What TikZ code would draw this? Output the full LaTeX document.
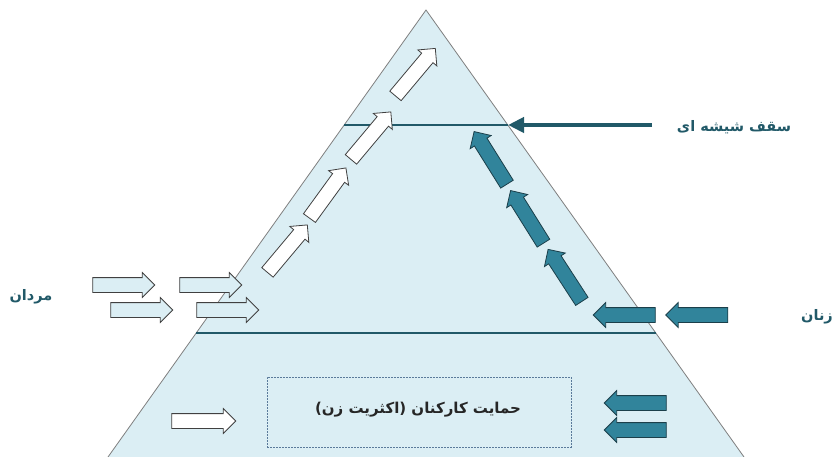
\documentclass[tikz,border=0pt]{standalone}
\usepackage{fontspec}
\usetikzlibrary{shapes.arrows,arrows.meta,calc}
\TeXXeTstate=1
\newfontfamily\arabicfont[Script=Arabic]{DejaVu Sans}
\definecolor{tribg}{HTML}{DBEEF4}
\definecolor{triline}{HTML}{7F7F7F}
\definecolor{darkteal}{HTML}{215968}
\definecolor{womenfill}{HTML}{31849B}
\definecolor{womenline}{HTML}{1B3F4A}
\definecolor{outline}{HTML}{404040}
\definecolor{boxline}{HTML}{5A7A9A}
\tikzset{
  blockarrow/.style={shape=single arrow, single arrow head extend=5pt,
    single arrow tip angle=90, minimum height=62pt, inner sep=0pt,
    text height=7pt, text depth=7pt, line width=0.8pt},
  menarrow/.style={blockarrow, draw=outline, fill=tribg},
  hollowarrow/.style={blockarrow, draw=outline, fill=white},
  womenarrow/.style={blockarrow, draw=womenline, fill=womenfill},
  levelline/.style={draw=darkteal, line width=1.3pt},
  label/.style={font=\arabicfont\bfseries\fontsize{14.5}{16}\selectfont, text=darkteal, inner sep=0pt},
  boxtext/.style={font=\arabicfont\bfseries\fontsize{15}{17}\selectfont, text=black!85, inner sep=0pt}
}
\begin{document}
\begin{tikzpicture}[x=1pt,y=-1pt]
\useasboundingbox (0,0) rectangle (835,457);
% pyramid
\coordinate (apex) at (426,10);
\coordinate (bl) at (108,457);
\coordinate (br) at (744,457);
\fill[tribg] (bl) -- (apex) -- (br) -- cycle;
\draw[triline, line width=0.8pt] (bl) -- (apex) -- (br);
% level lines
\coordinate (c1l) at (344,125);
\coordinate (c1r) at (508,125);
\coordinate (c2l) at (196,333);
\coordinate (c2r) at (656,333);
\draw[levelline] (c1l) -- (c1r);
\draw[levelline] (c2l) -- (c2r);
% glass ceiling label and arrow
\node[label] (glass) at (734,127) {\beginR سقف شیشه ای\endR};
\coordinate (glasstail) at (652,125);
\draw[darkteal, line width=4.5pt, -{Triangle[length=16pt,width=15pt]}] (glasstail) -- (c1r);
% side labels
\node[label] (men) at (31,297) {\beginR مردان\endR};
\node[label] (women) at (817,317) {\beginR زنان\endR};
% men arrows
\node[menarrow] (m1) at (120,285) {};
\node[menarrow] (m2) at (138,310) {};
\node[menarrow] (m3) at (207,285) {};
\node[menarrow] (m4) at (224,310) {};
% men diagonal arrows
\node[hollowarrow, rotate=50] (d1) at (285,251.5) {};
\node[hollowarrow, rotate=54] (d2) at (325.5,196) {};
\node[hollowarrow, rotate=50] (d3) at (368.5,138.5) {};
\node[hollowarrow, rotate=50] (d4) at (413,75) {};
% women arrows
\node[womenarrow, rotate=180] (w1) at (700.5,315) {};
\node[womenarrow, rotate=180] (w2) at (628,315) {};
\node[womenarrow, rotate=123] (wd3) at (567,278.5) {};
\node[womenarrow, rotate=122] (wd2) at (529,220) {};
\node[womenarrow, rotate=122] (wd1) at (492.5,161) {};
% bottom level
\node[draw=boxline, dash pattern=on 2pt off 1pt, line width=0.7pt,
      minimum width=304pt, minimum height=70pt, inner sep=0pt] (support) at (419,412) {};
\node[boxtext] (supporttext) at (418,410) {\beginR حمایت کارکنان (اکثریت زن)\endR};
\node[hollowarrow, minimum height=64pt] (b0) at (200,421) {};
\node[womenarrow, rotate=180] (b1) at (639,403) {};
\node[womenarrow, rotate=180] (b2) at (639,430) {};
\end{tikzpicture}
\end{document}
